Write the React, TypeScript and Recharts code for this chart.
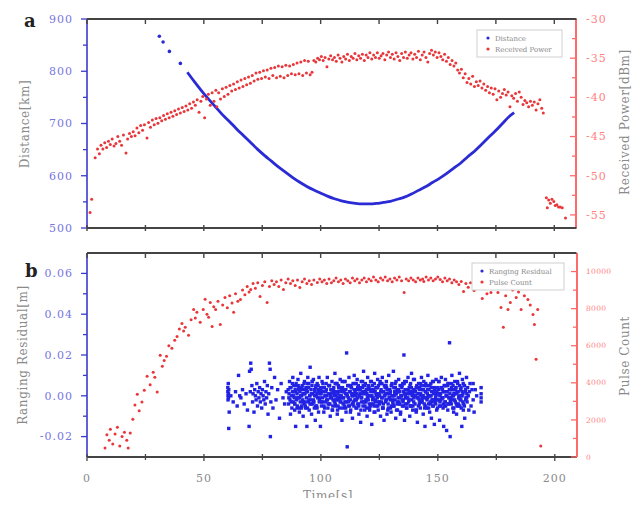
import React from 'react';
import { ComposedChart, Scatter, Line, XAxis, YAxis } from 'recharts';

const FONT = '"DejaVu Serif", "Liberation Serif", serif';
const BLUE = '#2b2bd6';
const RED = '#e8363a';
const AXIS_DARK = '#444';

// shared time axis
const timeDomain = [0, 209.5];
const timeTicks = [0, 25, 50, 75, 100, 125, 150, 175, 200];
const timeLabels = [0, 50, 100, 150, 200];

// panel a axes
const distanceTicks = [500, 550, 600, 650, 700, 750, 800, 850, 900];
const distanceLabels = [500, 600, 700, 800, 900];
const powerTicks = [-55, -52.5, -50, -47.5, -45, -42.5, -40, -37.5, -35, -32.5, -30];
const powerLabels = [-55, -50, -45, -40, -35, -30];

// panel b axes
const residualTicks = [-0.02, -0.01, 0, 0.01, 0.02, 0.03, 0.04, 0.05, 0.06];
const residualLabels = [-0.02, 0, 0.02, 0.04, 0.06];
const countTicks = [0, 1000, 2000, 3000, 4000, 5000, 6000, 7000, 8000, 9000, 10000];
const countLabels = [0, 2000, 4000, 6000, 8000, 10000];

// Distance [km]: sparse early fixes, then the continuous pass
const distanceSparse = [[31, 867], [32.6, 856], [35.3, 838], [40, 815]];
const distanceTrack = [
  [43, 798], [46, 780], [49, 763], [52, 747], [55, 732], [58, 717], [61, 704], [64, 690],
  [67, 677], [70, 664], [73, 651], [76, 639], [79, 628], [82, 617], [85, 607], [88, 597],
  [91, 588], [94, 580], [97, 573], [100, 567], [103, 561], [106, 556], [109, 552], [112, 549],
  [115, 547], [118, 546], [121, 546], [124, 547], [127, 549], [130, 551], [133, 555], [136, 559],
  [139, 565], [142, 572], [145, 579], [148, 587], [151, 595], [154, 604], [157, 614], [160, 624],
  [163, 636], [166, 647], [169, 660], [172, 673], [175, 686], [178, 700], [181, 714], [183, 721],
];

// Received Power [dBm]
const receivedPower = [
  [1.3, -54.7], [2.0, -53.0], [3.5, -47.7], [4.5, -46.6], [5.3, -47.2], [6.0, -46.1], [6.8, -46.6],
  [7.6, -45.8], [8.4, -46.4], [9.2, -45.6], [10.0, -46.0], [10.8, -45.3], [11.6, -46.2], [12.4, -45.9],
  [13.2, -45.0], [14.0, -45.6], [14.8, -46.1], [15.6, -44.8], [16.7, -47.1], [17.4, -45.3], [18.2, -44.6],
  [19.0, -45.0], [19.8, -44.4], [20.6, -44.9], [21.4, -43.9], [22.2, -44.5], [23.0, -43.6], [23.8, -44.2],
  [24.6, -43.5], [25.7, -45.2], [26.4, -43.2], [27.2, -43.8], [28.0, -42.9], [28.8, -43.5], [29.6, -42.7],
  [30.4, -43.3], [31.2, -42.6], [32.0, -43.0], [32.8, -42.3], [33.6, -42.8], [34.4, -42.1], [35.2, -42.6],
  [36.0, -41.9], [36.8, -42.4], [37.6, -41.7], [38.4, -42.2], [39.2, -41.5], [40.0, -42.0], [40.8, -41.3],
  [41.6, -41.8], [42.4, -41.1], [43.2, -41.6], [44.0, -40.8], [44.8, -41.4], [45.6, -40.6], [46.4, -41.0],
  [47.2, -40.3], [48.0, -41.9], [48.8, -40.5], [49.6, -39.9], [50.4, -42.6], [51.2, -40.2], [52.0, -39.6],
  [52.8, -41.0], [53.6, -39.4], [54.4, -40.5], [55.2, -39.1], [55.6, -41.2], [56.4, -39.4], [57.2, -40.2],
  [58.0, -38.9], [58.8, -39.9], [59.6, -38.7], [60.4, -39.6], [61.2, -38.5], [62.0, -39.2], [62.8, -38.3],
  [63.6, -39.0], [64.4, -38.0], [65.2, -38.8], [66.0, -37.8], [66.8, -38.6], [67.6, -37.6], [68.4, -38.4],
  [69.2, -37.4], [70.0, -38.2], [70.8, -37.2], [71.6, -37.9], [72.4, -36.9], [73.2, -37.7], [74.0, -36.8],
  [74.8, -37.6], [75.6, -36.6], [76.4, -37.4], [77.2, -36.5], [78.0, -37.6], [78.8, -36.3], [79.6, -37.2],
  [80.4, -36.2], [81.2, -37.5], [82.0, -36.0], [82.8, -37.3], [83.6, -36.1], [84.4, -37.5], [85.2, -35.9],
  [86.0, -37.2], [86.8, -36.0], [87.6, -37.0], [88.4, -35.8], [89.2, -37.1], [90.0, -35.6], [90.8, -37.0],
  [91.6, -35.5], [92.4, -37.2], [93.2, -35.3], [94.0, -36.9], [94.8, -35.4], [95.6, -37.1], [96.4, -36.8],
  [97.2, -35.3], [98.0, -35.5], [98.8, -35.0], [99.6, -35.2], [100.4, -34.8], [101.2, -35.3], [102.0, -34.9],
  [102.8, -36.1], [103.6, -35.1], [104.4, -34.7], [105.2, -35.2], [106.0, -34.9], [106.8, -35.4], [107.6, -34.6],
  [108.4, -35.0], [109.2, -35.5], [110.0, -34.8], [110.8, -35.1], [111.6, -34.5], [112.4, -35.3], [113.2, -34.8],
  [114.0, -35.0], [114.8, -34.4], [115.6, -35.2], [116.4, -34.7], [117.2, -35.0], [118.0, -34.5], [118.8, -35.3],
  [119.6, -34.6], [120.4, -34.9], [121.2, -34.3], [122.0, -35.1], [122.8, -34.6], [123.6, -34.9], [124.4, -34.3],
  [125.2, -35.0], [126.0, -34.7], [126.8, -34.4], [127.6, -35.2], [128.4, -34.6], [129.2, -34.2], [130.0, -34.9],
  [130.8, -34.5], [131.6, -35.1], [132.4, -34.3], [133.2, -34.8], [134.0, -35.3], [134.8, -34.4], [135.6, -34.9],
  [136.4, -34.2], [137.2, -35.0], [138.0, -34.6], [138.8, -34.3], [139.6, -35.1], [140.4, -34.5], [141.2, -34.9],
  [142.0, -34.1], [142.8, -35.2], [143.6, -34.6], [144.4, -34.2], [145.2, -34.9], [146.0, -35.5], [146.8, -34.4],
  [147.6, -34.0], [148.4, -34.6], [149.2, -34.2], [150.0, -34.9], [150.8, -34.3], [151.6, -34.8], [152.4, -35.2],
  [153.2, -34.5], [154.0, -35.4], [154.8, -34.9], [155.6, -35.8], [156.4, -35.3], [157.2, -36.0], [158.0, -35.6],
  [158.8, -36.5], [159.6, -36.9], [160.4, -36.4], [161.2, -37.5], [162.0, -37.0], [162.8, -38.1], [163.6, -37.6],
  [164.4, -38.3], [165.2, -37.3], [166.0, -38.6], [166.8, -38.0], [167.6, -38.5], [168.4, -37.9], [169.2, -38.8],
  [170.0, -38.3], [170.8, -39.1], [171.6, -38.6], [172.4, -39.4], [173.2, -38.8], [174.0, -39.6], [174.8, -38.9],
  [175.6, -40.3], [176.4, -39.2], [177.2, -40.0], [178.0, -39.5], [178.8, -39.0], [179.6, -39.7], [180.4, -39.3],
  [181.2, -41.2], [182.0, -39.8], [182.8, -40.1], [183.6, -39.5], [184.4, -40.5], [185.2, -39.3], [186.0, -40.0],
  [186.8, -40.9], [187.6, -40.4], [188.4, -40.7], [189.2, -41.2], [190.0, -40.5], [190.8, -41.0], [191.6, -40.6],
  [192.4, -41.6], [193.2, -40.8], [194.0, -40.3], [194.8, -41.4], [195.5, -42.0],
  [196.8, -52.8], [197.2, -54.1], [197.8, -53.1], [198.5, -53.5], [199.2, -53.0], [200.0, -53.3], [200.6, -53.8],
  [201.3, -53.7], [202.0, -54.0], [202.7, -54.0], [203.6, -54.1], [205.0, -55.4],
];

// Pulse Count
const pulseCount = [
  [7.7, 480], [8.5, 1200], [9.5, 900], [10, 1500], [11, 700], [12, 1240], [13, 1600], [14, 590], [15, 1100],
  [16, 1340], [17, 900], [17.6, 480], [18.5, 1300], [19.6, 2040], [20.5, 2800], [21.5, 3390], [22.3, 2500],
  [23.5, 2960], [24.5, 3600], [25.7, 4350], [27, 3900], [28.3, 4570], [29, 4300], [30, 3500], [31.3, 5480],
  [32.2, 4890], [33, 5200], [34, 5430], [35, 6000], [36.3, 5860], [37.5, 6300], [38.5, 6500], [39.5, 6900],
  [40.6, 7200], [41.3, 6800], [42, 7000], [43.4, 6560], [44.5, 7400], [45.6, 7960], [46.3, 7500], [47, 7800],
  [48.4, 7260], [49.7, 7960], [50.5, 8500], [51.3, 7700], [52, 7530], [52.7, 8330], [53.5, 7040], [54.2, 8100],
  [55, 7960], [56, 8400], [57, 7150], [58, 8200], [59, 8600], [60, 8050], [61, 8700], [62, 8300], [62.7, 7800],
  [63.5, 8800], [64.5, 8400], [65.6, 8490], [66.5, 9000], [67.5, 8750], [68.5, 9200], [69.3, 8900], [70, 9030],
  [71, 9350], [72, 9100], [73, 9400], [74, 8660], [75, 9250], [76, 9450], [77, 8330], [78, 9200], [79, 9500],
  [80, 9300], [81, 9450], [82, 9200], [83, 9550], [84, 9030], [85, 9400], [86, 9600], [87, 9350], [88, 9500],
  [89, 9250], [90, 9550], [91, 9140], [92, 9450], [93, 9600], [94, 9350], [95, 9500], [96, 9300], [97, 9550],
  [98.5, 9410], [99.5, 9600], [100.5, 9450], [101.5, 9550], [102.5, 9350], [103.5, 9600], [104.5, 9400],
  [105.5, 9500], [106.5, 9650], [107.5, 9450], [108.5, 9550], [109.5, 9350], [110.5, 9600], [111.5, 9500],
  [112.5, 9400], [113.5, 9650], [114.5, 9500], [115.5, 9600], [116.5, 9400], [117.5, 9550], [118.5, 9650],
  [119.5, 9450], [120.5, 9600], [121.5, 9500], [122.5, 9700], [123.5, 9550], [124.5, 9450], [125.5, 9650],
  [126.5, 9550], [127.5, 9700], [128.5, 9500], [129.5, 9600], [130.5, 9450], [131.5, 9650], [132.5, 9550],
  [133.5, 9700], [134.5, 9500], [135.6, 8870], [136.5, 9600], [137.5, 9500], [138.5, 9650], [139.5, 9550],
  [140.5, 9450], [141.5, 9650], [142.5, 9550], [143.5, 9600], [144, 9460], [145, 9700], [146, 9550], [147, 9650],
  [148, 9500], [149, 9600], [150, 9700], [151, 9570], [152, 9450], [153, 9650], [154, 9500], [155, 9600],
  [156, 9400], [157, 9550], [158, 9450], [159, 9300], [160, 9460], [161, 8920], [162, 9350], [163, 9150],
  [164, 9400], [165.5, 8980], [166.5, 9250], [167.5, 9100], [169, 8550], [170, 9100], [171, 8800], [172.7, 8870],
  [174, 9200], [175.7, 8870], [177, 8060], [178, 6990], [179, 8700], [180, 7960], [181, 8330], [182, 9000],
  [183.5, 8600], [184.5, 8900], [185.6, 7960], [187, 8700], [188.5, 8490], [189.5, 8200], [190.7, 7690],
  [191.3, 7150], [192, 5270], [192.7, 7960], [194, 590],
];

// Ranging Residual, values in mm
const residualSparseMm = [
  [60.2, 4], [60.2, 2], [60.3, 0], [60.3, -2], [60.4, 6], [60.5, -1], [60.5, 1], [60.6, 3], [60.8, -8], [60.6, -16],
  [61.5, 0], [62.5, -3], [63.5, 2], [64.2, -5], [64.8, 10], [65.3, 0], [65.8, -1], [66.5, 3], [67.2, -4], [68, 1],
  [68.6, -7], [69.3, -15], [69.5, 12], [69.8, 2],
  [70.0, 16], [70.2, 13], [70.5, 5], [70.8, -3], [71.0, 1], [71.4, -8], [71.7, 3], [72.0, 0], [72.3, -2], [72.6, 6],
  [72.9, -5], [73.2, 2], [73.5, -1], [73.8, 4], [74.1, -3], [74.4, 1], [74.7, -6], [75.0, 3], [75.3, 0], [75.6, -2],
  [75.9, 7], [76.2, -4], [76.5, 2], [76.8, -1], [77.1, 5], [77.4, -9], [77.7, 1], [78.0, 16], [78.3, 13], [78.4, -20],
  [78.6, -3], [79.0, 4], [79.5, -6], [80.2, 9], [80.8, -2], [81.5, 3], [82.3, -11], [83.0, 6], [83.8, -1], [84.5, -4],
  [85.2, 2],
];
const residualMidMm = [
  [86.0, 3], [86.2, -4], [86.4, 1], [86.6, 7], [86.8, -2], [87.0, -9], [87.2, 4], [87.4, 0], [87.6, -6], [87.8, 2],
  [88.0, 9], [88.2, -3], [88.4, 5], [88.6, -1], [88.8, -7], [89.0, 3], [89.2, -15], [89.4, 6], [89.6, -2], [89.8, 1],
  [90.0, -5], [90.2, 8], [90.4, -1], [90.6, 4], [90.8, -8], [91.0, 2], [91.2, -3], [91.4, 11], [91.6, -6], [91.8, 0],
  [92.0, 5], [92.2, -2], [92.4, -10], [92.6, 3], [92.8, -4], [93.0, 7], [93.2, 1], [93.4, -6], [93.6, 4], [93.8, -1],
  [94.0, -15], [94.2, 2], [94.4, 9], [94.6, -3], [94.8, 6], [95.0, -7], [95.2, 0], [95.4, 14], [95.6, -2], [95.8, 3],
  [96.0, -9], [96.2, 5], [96.4, -4], [96.6, 1], [96.8, 8], [97.0, -3], [97.2, -6], [97.4, 2], [97.6, -12], [97.8, 4],
  [98.0, 0], [98.2, -5], [98.4, 6], [98.6, -1], [98.8, 3], [99.0, -8], [99.2, 9], [99.4, -2], [99.6, 1], [99.8, -15],
  [86.3, -1], [86.8, 4], [87.3, -3], [87.8, 6], [88.3, 0], [88.8, -4], [89.3, 2], [89.8, -6], [90.3, 5], [90.8, -1],
  [91.3, 3], [91.8, -5], [92.3, 1], [92.8, 6], [93.3, -3], [93.8, 2], [94.3, -6], [94.8, 4], [95.3, 0], [95.8, -4],
  [96.3, 7], [96.8, -2], [97.3, 3], [97.8, -5], [98.3, 1], [98.8, 5], [99.3, -3], [99.8, 2],
];
const residualCoreMm = [
  [100, 3], [100.25, -5], [100.5, 7], [100.75, -1], [101, 2], [101.25, -8], [101.5, 4], [101.75, 0], [102, -3], [102.25, 6],
  [102.5, -2], [102.75, 9], [103, -6], [103.25, 1], [103.5, -4], [103.75, 5], [104, -10], [104.25, 3], [104.5, -1], [104.75, 7],
  [105, -7], [105.25, 2], [105.5, 4], [105.75, -3], [106, 11], [106.25, -5], [106.5, 0], [106.75, 6], [107, -9], [107.25, 1],
  [107.5, 5], [107.75, -2], [108, -6], [108.25, 8], [108.5, -1], [108.75, 3], [109, -12], [109.25, 4], [109.5, -4], [109.75, 2],
  [110, 7], [110.25, -3], [110.5, 1], [110.75, -8], [111, 21], [111.25, -25], [111.5, 5], [111.75, -1], [112, 9], [112.25, -5],
  [112.5, 2], [112.75, -7], [113, 4], [113.25, 0], [113.5, -11], [113.75, 6], [114, -3], [114.25, 10], [114.5, -2], [114.75, 3],
  [115, -6], [115.25, 1], [115.5, 8], [115.75, -4], [116, 5], [116.25, -9], [116.5, 0], [116.75, 3], [117, -13], [117.25, 7],
  [117.5, -1], [117.75, 4], [118, -5], [118.25, 12], [118.5, 2], [118.75, -7], [119, 6], [119.25, -3], [119.5, 1], [119.75, -10],
  [120, 9], [120.25, -2], [120.5, 3], [120.75, -6], [121, 0], [121.25, 7], [121.5, -4], [121.75, -14], [122, 5], [122.25, -1],
  [122.5, 2], [122.75, -8], [123, 11], [123.25, -3], [123.5, 4], [123.75, -5], [124, 1], [124.25, 8], [124.5, -7], [124.75, 0],
  [125, -3], [125.25, 6], [125.5, -10], [125.75, 3], [126, -1], [126.25, 9], [126.5, -6], [126.75, 2], [127, -12], [127.25, 5],
  [127.5, 4], [127.75, -2], [128, 7], [128.25, -9], [128.5, 1], [128.75, -4], [129, 10], [129.25, -1], [129.5, 3], [129.75, -6],
  [130, -8], [130.25, 5], [130.5, 0], [130.75, -3], [131, 12], [131.25, -5], [131.5, 2], [131.75, 6], [132, -11], [132.25, 1],
  [132.5, 3], [132.75, -7], [133, -1], [133.25, 8], [133.5, -4], [133.75, 2], [134, -9], [134.25, 5], [134.5, 0], [134.75, -2],
  [135, 6], [135.25, -5], [135.5, 20], [135.75, -12], [136, 3], [136.25, -1], [136.5, 7], [136.75, -6], [137, 1], [137.25, 9],
  [137.5, -3], [137.75, 4], [138, -10], [138.25, 2], [138.5, -5], [138.75, 11], [139, 0], [139.25, -7], [139.5, 3], [139.75, -1],
  [140, 8], [140.25, -4], [140.5, 2], [140.75, -8], [141, 5], [141.25, -13], [141.5, 1], [141.75, 6], [142, -2], [142.25, 4],
  [142.5, -6], [142.75, 0], [143, 9], [143.25, -3], [143.5, 3], [143.75, -9], [144, 7], [144.25, -1], [144.5, -15], [144.75, 2],
  [145, 5], [145.25, -6], [145.5, 1], [145.75, 10], [146, -4], [146.25, 3], [146.5, -8], [146.75, 0], [147, 6], [147.25, -11],
  [147.5, -2], [147.75, 7], [148, -5], [148.25, 2], [148.5, -14], [148.75, 4], [149, -1], [149.25, 8], [149.5, -7], [149.75, 1],
  [100.1, 1], [100.6, -3], [101.1, 4], [101.6, -6], [102.1, 2], [102.6, 0], [103.1, -4], [103.6, 5], [104.1, -1], [104.6, 3],
  [105.1, -5], [105.6, 2], [106.1, 6], [106.6, -2], [107.1, -7], [107.6, 4], [108.1, 0], [108.6, -3], [109.1, 7], [109.6, -1],
  [110.1, 3], [110.6, -6], [111.1, 1], [111.6, 5], [112.1, -2], [112.6, -8], [113.1, 4], [113.6, 0], [114.1, -5], [114.6, 2],
  [115.1, 6], [115.6, -1], [116.1, -4], [116.6, 3], [117.1, -7], [117.6, 1], [118.1, 5], [118.6, -3], [119.1, 2], [119.6, -6],
  [120.1, 0], [120.6, 4], [121.1, -5], [121.6, 7], [122.1, -2], [122.6, 3], [123.1, -8], [123.6, 1], [124.1, -1], [124.6, 5],
  [125.1, -4], [125.6, 2], [126.1, 6], [126.6, -6], [127.1, 0], [127.6, -3], [128.1, 4], [128.6, -7], [129.1, 3], [129.6, 1],
  [130.1, 5], [130.6, -2], [131.1, -5], [131.6, 1], [132.1, 7], [132.6, -4], [133.1, 2], [133.6, -1], [134.1, -8], [134.6, 4],
  [135.1, -3], [135.6, 6], [136.1, 0], [136.6, -6], [137.1, 3], [137.6, -2], [138.1, 5], [138.6, -5], [139.1, 1], [139.6, 8],
  [140.1, 2], [140.6, -7], [141.1, 4], [141.6, -1], [142.1, -4], [142.6, 6], [143.1, -3], [143.6, 0], [144.1, 5], [144.6, -5],
  [145.1, -1], [145.6, 3], [146.1, -6], [146.6, 5], [147.1, 0], [147.6, -3], [148.1, 7], [148.6, -2], [149.1, -4], [149.6, 2],
];
const residualExtraMm = [
  [88.35, 2], [88.85, -4], [89.35, 5], [89.85, -1], [90.35, 3], [90.85, -6], [91.35, 0], [91.85, 4], [92.35, -3], [92.85, 1],
  [93.35, -5], [93.85, 3], [94.35, 6], [94.85, -2], [95.35, -4], [95.85, 1], [96.35, 7], [96.85, -3], [97.35, 0], [97.85, 5],
  [98.35, -6], [98.85, 2], [99.35, -1], [99.85, 4], [100.35, -3], [100.85, 6], [101.35, -5], [101.85, 0], [102.35, 3], [102.85, -2],
  [103.35, 5], [103.85, -4], [104.35, 1], [104.85, -7], [105.35, 3], [105.85, 0], [106.35, -2], [106.85, 6], [107.35, -5], [107.85, 2],
  [108.35, -1], [108.85, 4], [109.35, -6], [109.85, 3], [110.35, 7], [110.85, -3], [111.35, 0], [111.85, -5], [112.35, 2], [112.85, 5],
  [113.35, -4], [113.85, 1], [114.35, 6], [114.85, -2], [115.35, -6], [115.85, 3], [116.35, 0], [116.85, 4], [117.35, -3], [117.85, 7],
  [118.35, 1], [118.85, -5], [119.35, 3], [119.85, -1], [120.35, 5], [120.85, -7], [121.35, 2], [121.85, 0], [122.35, -4], [122.85, 6],
  [123.35, -2], [123.85, 4], [124.35, -5], [124.85, 1], [125.35, 7], [125.85, -3], [126.35, -6], [126.85, 2], [127.35, 0], [127.85, 5],
  [128.35, 3], [128.85, -6], [129.35, 1], [129.85, -2], [130.35, 6], [130.85, -4], [131.35, 0], [131.85, 4], [132.35, -7], [132.85, 2],
  [133.35, -3], [133.85, 5], [134.35, 0], [134.85, -5], [135.35, 2], [135.85, 7], [136.35, -1], [136.85, -4], [137.35, 3], [137.85, 1],
  [138.35, 6], [138.85, -2], [139.35, -5], [139.85, 3], [140.35, 0], [140.85, -7], [141.35, 4], [141.85, 1], [142.35, -3], [142.85, 5],
  [143.35, -1], [143.85, 3], [144.35, -6], [144.85, 6], [145.35, -2], [145.85, 0], [146.35, 5], [146.85, -4], [147.35, 2], [147.85, -5],
  [148.35, 4], [148.85, -3], [149.35, 1], [149.85, -6], [150.35, 7], [150.85, 0], [151.35, -2], [151.85, 3], [152.35, -4], [152.85, 5],
  [153.35, -5], [153.85, 2], [154.35, 6], [154.85, -1], [155.35, -3], [155.85, 4], [156.35, 0], [156.85, -6], [157.35, 3], [157.85, 1],
  [158.35, 2], [158.85, -4], [159.35, 5], [159.85, -2], [160.35, 0], [160.85, 6], [161.35, -5], [161.85, 3], [162.35, -1],
  [104.2, 0], [104.7, 3], [105.2, -2], [105.7, 1], [106.2, -4], [106.7, 2], [107.2, -1], [107.7, 4], [108.2, -3], [108.7, 0],
  [109.2, 2], [109.7, -1], [110.2, -5], [110.7, 3], [111.2, 0], [111.7, -3], [112.2, 5], [112.7, -2], [113.2, 1], [113.7, -4],
  [114.2, 3], [114.7, 0], [115.2, -2], [115.7, 4], [116.2, -5], [116.7, 1], [117.2, -1], [117.7, 2], [118.2, -3], [118.7, 5],
  [119.2, -2], [119.7, 1], [120.2, 4], [120.7, -4], [121.2, 0], [121.7, 3], [122.2, -1], [122.7, -5], [123.2, 2], [123.7, 0],
  [124.2, 4], [124.7, -3], [125.2, 0], [125.7, 2], [126.2, -1], [126.7, -4], [127.2, 5], [127.7, 1], [128.2, -2], [128.7, 3],
  [129.2, -1], [129.7, 2], [130.2, -5], [130.7, 0], [131.2, 4], [131.7, -2], [132.2, 1], [132.7, -3], [133.2, 3], [133.7, -4],
  [134.2, 0], [134.7, 5], [135.2, -2], [135.7, 1], [136.2, -4], [136.7, 3], [137.2, -1], [137.7, 2], [138.2, -5], [138.7, 4],
  [139.2, 2], [139.7, -3], [140.2, 0], [140.7, 4], [141.2, -1], [141.7, -5], [142.2, 3], [142.7, 1], [143.2, -2], [143.7, 0],
  [144.2, -4], [144.7, 2], [145.2, 5], [145.7, -1], [146.2, 0], [146.7, -3], [147.2, 4], [147.7, -2], [148.2, 1], [148.7, 3],
  [149.2, 0], [149.7, -2], [150.2, 3], [150.7, -5], [151.2, 1], [151.7, 4], [152.2, -1], [152.7, 2], [153.2, -3], [153.7, 0],
  [154.2, 5], [154.7, -4], [155.2, 1], [155.7, -1], [156.2, 3], [156.7, 0], [157.2, -2], [157.7, 4], [158.2, -5], [158.7, 2],
  [159.2, -1], [159.7, 3], [160.2, 0], [160.7, -3],
];
const residualTailMm = [
  [150, 4], [150.25, -2], [150.5, 7], [150.75, -12], [151, 1], [151.25, -5], [151.5, 9], [151.75, -1], [152, 3], [152.25, -6],
  [152.5, -15], [152.75, 5], [153, -3], [153.25, 8], [153.5, 0], [153.75, -17], [154, 2], [154.25, -7], [154.5, 6], [154.75, -1],
  [155, 26], [155.25, -20], [155.5, 3], [155.75, -4], [156, 10], [156.25, -2], [156.5, 5], [156.75, -8], [157, 1], [157.25, 7],
  [157.5, -3], [157.75, 4], [158, -9], [158.25, 2], [158.5, 6], [158.75, -5], [159, 0], [159.25, 11], [159.5, -2], [159.75, 3],
  [160, -6], [160.25, -15], [160.5, 8], [160.75, 1], [161, -4], [161.25, 5], [161.5, -11], [161.75, 2], [162, -1], [162.25, 9],
  [162.5, -3], [162.75, 4], [163, 0], [163.25, -7], [163.5, 2], [163.75, 6],
  [150.4, 1], [150.9, -3], [151.4, 4], [151.9, -1], [152.4, 2], [152.9, -5], [153.4, 5], [153.9, 0], [154.4, -4], [154.9, 3],
  [155.4, -2], [155.9, 6], [156.4, -6], [156.9, 1], [157.4, 3], [157.9, -4], [158.4, 7], [158.9, -1], [159.4, -5], [159.9, 4],
  [160.4, 2], [160.9, -7], [161.4, 5], [161.9, -2], [162.4, 1],
  [164.2, -5], [164.6, 3], [165.1, 6], [165.1, -2], [165.5, -8], [166, 3], [166.6, 0],
  [168.5, 4], [168.5, 1], [168.5, -3], [168.5, -1],
];

const toPoints = (rows: number[][]) => rows.map(([t, y]) => ({ t, y }));
const residualData = [...residualSparseMm, ...residualMidMm, ...residualCoreMm, ...residualExtraMm, ...residualTailMm].map(
  ([t, mm]) => ({ t, y: mm / 1000 })
);

const near = (list: number[], v: number) => list.some((m) => Math.abs(m - v) < 1e-9);

const LEFT_BLUE = '#3a3acc';
const RIGHT_RED = '#ff6b6b';
const LEFT_LABEL = '#7676e0';
const RIGHT_LABEL = '#ff7f7f';

// plot box edges in page pixels (shared by both panels horizontally)
const PLOT_LEFT = 87;
const PLOT_RIGHT = 576.5;
const PANEL_A = { top: 19, bottom: 228 };
const PANEL_B = { top: 253, bottom: 457 };
const timeToX = (t: number) => PLOT_LEFT + ((t - timeDomain[0]) / (timeDomain[1] - timeDomain[0])) * (PLOT_RIGHT - PLOT_LEFT);

const xTick = (p: any) => {
  const v = p.payload.value;
  const major = near(timeLabels, v);
  return (
    <g>
      <line x1={p.x} x2={p.x} y1={p.y - 3} y2={p.y + (major ? 4 : 3)} stroke={AXIS_DARK} strokeWidth={1.3} />
      {major && (
        <text x={p.x} y={p.y + 21} dy="0.35em" textAnchor="middle" fill="#8a8a8a" fontSize={11} fontFamily={FONT} letterSpacing={1}>
          {v}
        </text>
      )}
    </g>
  );
};

const yTick =
  (side: 'left' | 'right', labels: number[], fmt: (v: number) => string, stroke: string, color: string, size: number, gap: number) =>
  (p: any) => {
    const v = p.payload.value;
    const major = near(labels, v);
    return (
      <g>
        <line x1={p.x - (major ? 6 : 4)} x2={p.x} y1={p.y} y2={p.y} stroke={stroke} strokeWidth={1.3} />
        {major && (
          <text
            x={side === 'left' ? p.x - gap : p.x + gap}
            y={p.y}
            dy="0.35em"
            textAnchor={side === 'left' ? 'end' : 'start'}
            fill={color}
            fontSize={size}
            fontFamily={FONT}
            letterSpacing={side === 'left' || size > 9 ? 1 : 0.3}
          >
            {fmt(v)}
          </text>
        )}
      </g>
    );
  };

const redDot = (p: any) => <circle cx={p.cx} cy={p.cy} r={1.5} fill={RED} />;
const blueDot = (p: any) => <circle cx={p.cx} cy={p.cy} r={1.8} fill={BLUE} />;
const blueSquare = (p: any) => <rect x={p.cx - 1.7} y={p.cy - 1.7} width={3.4} height={3.4} fill="#2222e4" />;

// horizontal frame edge (thin filled bar) with inward / crossing time ticks
const FrameEdge = ({ y, kind }: { y: number; kind: 'down' | 'cross' }) => (
  <g>
    <rect x={PLOT_LEFT} y={y - 1} width={PLOT_RIGHT - PLOT_LEFT} height={2} fill={AXIS_DARK} />
    {timeTicks.map((t) => (
      <rect
        key={t}
        x={timeToX(t) - 0.7}
        y={kind === 'down' ? y : y - 3}
        width={1.4}
        height={kind === 'down' ? 5 : 6}
        fill={AXIS_DARK}
      />
    ))}
  </g>
);

const Overlay = () => (
  <svg width={641} height={506} style={{ position: 'absolute', left: 0, top: 0, zIndex: 10, pointerEvents: 'none' }}>
    <FrameEdge y={PANEL_A.top} kind="down" />
    <FrameEdge y={PANEL_A.bottom} kind="cross" />
    <FrameEdge y={PANEL_B.top} kind="down" />

    <text x={24} y={27} fontSize={18} fontWeight="bold" fontFamily={FONT} fill="#222">a</text>
    <text x={25} y={277} fontSize={18} fontWeight="bold" fontFamily={FONT} fill="#222">b</text>
    <text transform="translate(29,124) rotate(-90)" textAnchor="middle" fontSize={12} fontFamily={FONT} fill="#8a8a8a" letterSpacing={0.6}>
      Distance[km]
    </text>
    <text transform="translate(629,122) rotate(-90)" textAnchor="middle" fontSize={12} fontFamily={FONT} fill="#8a8a8a" letterSpacing={0.6}>
      Received Power[dBm]
    </text>
    <text transform="translate(27,355) rotate(-90)" textAnchor="middle" fontSize={12} fontFamily={FONT} fill="#8a8a8a" letterSpacing={0.6}>
      Ranging Residual[m]
    </text>
    <text transform="translate(629,356) rotate(-90)" textAnchor="middle" fontSize={12} fontFamily={FONT} fill="#8a8a8a" letterSpacing={0.6}>
      Pulse Count
    </text>
    <text x={328} y={500} textAnchor="middle" fontSize={12} fontFamily={FONT} fill="#8a8a8a" letterSpacing={0.6}>
      Time[s]
    </text>

    <rect x={477} y={30} width={85} height={27} fill="#fff" stroke="#d0d0d0" strokeWidth={1} />
    <circle cx={488} cy={38} r={1.6} fill={BLUE} />
    <text x={495} y={40.5} fontSize={7} fontFamily={FONT} fill="#888">Distance</text>
    <circle cx={488} cy={49} r={1.6} fill={RED} />
    <text x={495} y={51.5} fontSize={7} fontFamily={FONT} fill="#888">Received Power</text>

    <rect x={472} y={263} width={92} height={27} fill="#fff" stroke="#d0d0d0" strokeWidth={1} />
    <circle cx={482} cy={271} r={1.6} fill={BLUE} />
    <text x={489} y={273.5} fontSize={7} fontFamily={FONT} fill="#888">Ranging Residual</text>
    <circle cx={482} cy={282} r={1.6} fill={RED} />
    <text x={489} y={284.5} fontSize={7} fontFamily={FONT} fill="#888">Pulse Count</text>
  </svg>
);

const timeAxisProps = {
  xAxisId: 'time',
  type: 'number' as const,
  dataKey: 't',
  domain: timeDomain,
  ticks: timeTicks,
  interval: 0,
  tickSize: 0,
  tickMargin: 0,
  tickLine: false,
  allowDataOverflow: true,
  axisLine: { stroke: AXIS_DARK, strokeWidth: 1.8 },
};

const yAxisBase = {
  width: 60,
  type: 'number' as const,
  dataKey: 'y',
  interval: 0,
  tickSize: 0,
  tickMargin: 0,
  tickLine: false,
  allowDataOverflow: true,
};

export default function App() {
  return (
    <div style={{ position: 'relative', width: 641, height: 506, margin: -8, background: '#fff' }}>
      <div style={{ position: 'absolute', left: 0, top: 0 }}>
        <ComposedChart width={641} height={240} margin={{ top: PANEL_A.top, right: 5, bottom: 240 - PANEL_A.bottom, left: 27 }}>
          <XAxis {...timeAxisProps} hide height={0} />
          <YAxis
            {...yAxisBase}
            yAxisId="dist"
            orientation="left"
            domain={[500, 900]}
            ticks={distanceTicks}
            axisLine={{ stroke: LEFT_BLUE, strokeWidth: 1.6 }}
            tick={yTick('left', distanceLabels, (v) => String(v), LEFT_BLUE, LEFT_LABEL, 11, 14)}
          />
          <YAxis
            {...yAxisBase}
            yAxisId="power"
            orientation="right"
            domain={[-56.67, -30]}
            ticks={powerTicks}
            axisLine={{ stroke: RIGHT_RED, strokeWidth: 2 }}
            tick={yTick('right', powerLabels, (v) => String(v), RIGHT_RED, RIGHT_LABEL, 11, 10)}
          />
          <Scatter xAxisId="time" yAxisId="power" data={toPoints(receivedPower)} shape={redDot} isAnimationActive={false} />
          <Scatter xAxisId="time" yAxisId="dist" data={toPoints(distanceSparse)} shape={blueDot} isAnimationActive={false} />
          <Line
            xAxisId="time"
            yAxisId="dist"
            data={toPoints(distanceTrack)}
            dataKey="y"
            type="monotone"
            stroke={BLUE}
            strokeWidth={2.8}
            dot={false}
            isAnimationActive={false}
          />
        </ComposedChart>
      </div>
      <div style={{ position: 'absolute', left: 0, top: 240 }}>
        <ComposedChart width={641} height={266} margin={{ top: PANEL_B.top - 240, right: 4, bottom: 19, left: 27 }}>
          <XAxis {...timeAxisProps} orientation="bottom" height={30} tick={xTick} />
          <YAxis
            {...yAxisBase}
            yAxisId="res"
            orientation="left"
            domain={[-0.03, 0.07]}
            ticks={residualTicks}
            axisLine={{ stroke: LEFT_BLUE, strokeWidth: 1.6 }}
            tick={yTick('left', residualLabels, (v) => v.toFixed(2), LEFT_BLUE, LEFT_LABEL, 11, 14)}
          />
          <YAxis
            {...yAxisBase}
            yAxisId="count"
            orientation="right"
            domain={[0, 11000]}
            ticks={countTicks}
            axisLine={{ stroke: RIGHT_RED, strokeWidth: 2 }}
            tick={yTick('right', countLabels, (v) => String(v), RIGHT_RED, RIGHT_LABEL, 7.5, 9)}
          />
          <Scatter xAxisId="time" yAxisId="count" data={toPoints(pulseCount)} shape={redDot} isAnimationActive={false} />
          <Scatter xAxisId="time" yAxisId="res" data={residualData} shape={blueSquare} isAnimationActive={false} />
        </ComposedChart>
      </div>
      <Overlay />
    </div>
  );
}
